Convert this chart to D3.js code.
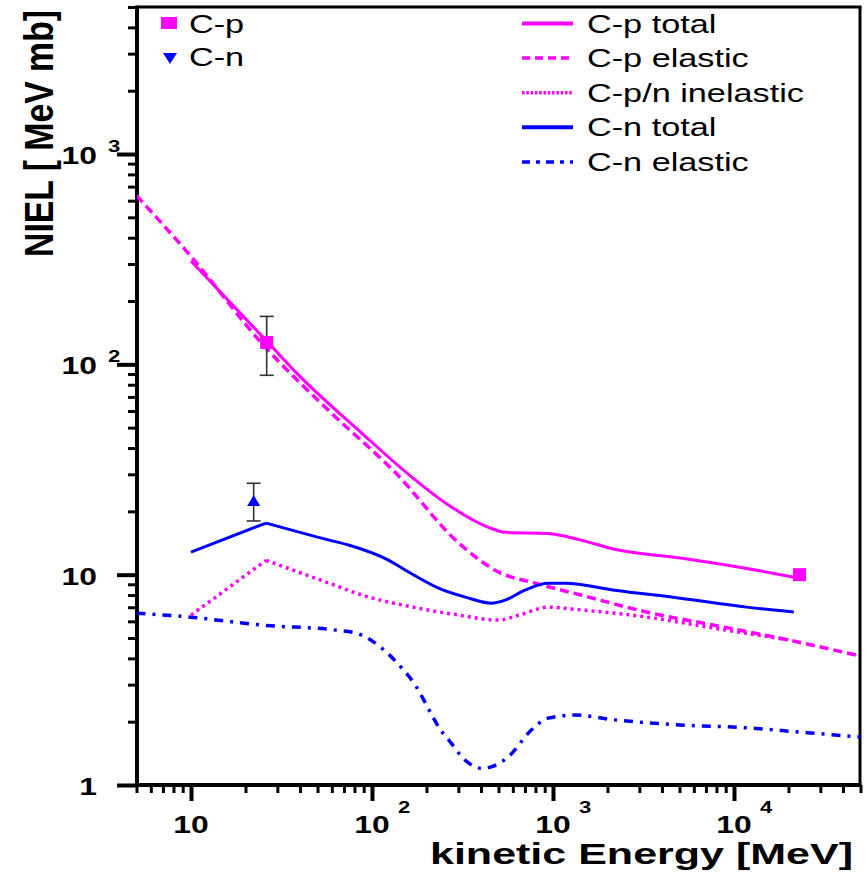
<!DOCTYPE html>
<html><head><meta charset="utf-8">
<script src="https://cdn.jsdelivr.net/npm/d3@7"></script>
<style>body{margin:0;background:#fff}text{font-family:"Liberation Sans",Arial,Helvetica,sans-serif;fill:#000}</style>
</head><body>
<svg id="c" width="867" height="876"></svg>
<script>
// ---------------- data ----------------
const cpTotalE   = [10, 26, 38, 88, 166, 255, 440, 545, 940, 1427, 2190, 5050, 11780, 21400];
const cpTotalV   = [310, 130, 91.6, 47, 29.1, 21.9, 16.8, 15.9, 15.7, 14.6, 13.2, 12.0, 10.7, 9.73];

const cpElasticE = [5, 10, 25, 58, 135, 300, 500, 800, 1427, 3327, 7760, 17900, 50000];
const cpElasticV = [635, 326, 124, 60, 30.5, 14.2, 10.3, 9.1, 8.0, 6.63, 5.75, 4.99, 4.1];

const inelE      = [10, 26, 58, 88, 170, 300, 499, 657, 940, 1427, 3327, 7760, 20300];
const inelV      = [6.42, 11.7, 9.11, 8.0, 7.0, 6.43, 6.08, 6.45, 7.0, 6.8, 6.28, 5.57, 4.89];

const cnTotalE   = [10, 26, 58, 75, 124, 160, 233, 328, 456, 545, 700, 940, 1164, 2190, 5050, 11780, 21400];
const cnTotalV   = [12.8, 17.6, 14.6, 13.8, 11.7, 10.27, 8.63, 7.82, 7.32, 7.57, 8.44, 9.11, 9.11, 8.44, 7.73, 7.01, 6.64];

const cnElasticE = [5, 10, 25, 63, 82, 114, 146, 175, 195, 214, 240, 265, 328, 402, 456, 566, 757, 940, 1321, 2190, 5050, 11780, 22200, 50000];
const cnElasticV = [6.56, 6.28, 5.75, 5.45, 5.27, 4.45, 3.6, 2.95, 2.5, 2.15, 1.82, 1.64, 1.31, 1.20, 1.22, 1.36, 1.82, 2.08, 2.15, 2.04, 1.93, 1.87, 1.79, 1.69];

// measured points
const cpPointE  = [26.2, 23000];
const cpPointV  = [127, 10];
const cpPointLo = [88.7, null];
const cpPointHi = [169, null];
const cnPointE  = [22.2];
const cnPointV  = [22.4];
const cnPointLo = [18.0];
const cnPointHi = [27.2];

// axis ticks
const xMajor = [10, 100, 1000, 10000];
const xMajorBase = ["10", "10", "10", "10"];
const xMajorExp  = ["", "2", "3", "4"];
const yMajor = [1, 10, 100, 1000];
const yMajorBase = ["1", "10", "10", "10"];
const yMajorExp  = ["", "", "2", "3"];

const legendLineLabels = ["C-p total", "C-p elastic", "C-p/n inelastic", "C-n total", "C-n elastic"];
const legendMarkLabels = ["C-p", "C-n"];

// ---------------- layout ----------------
const svg = d3.select("#c");
const L = 137, R = 860, T = 7, B = 785;
const x = d3.scaleLog().domain([5, 50000]).range([136.5, 860.5]);
const y = d3.scaleLog().domain([1, 5000]).range([785, 7]);
const MAG = "#ff00ff", BLU = "#0000ff";

svg.append("defs").append("clipPath").attr("id", "clip")
  .append("rect").attr("x", L).attr("y", T).attr("width", R - L).attr("height", B - T);

// minor ticks
function minors(lo, hi) {
  const out = [];
  for (let d = 1; d <= 100000; d *= 10)
    for (let k = 2; k <= 9; k++) { const v = k * d; if (v >= lo && v <= hi) out.push(v); }
  return out;
}
const xMinor = minors(5, 50000);
const yMinor = minors(1, 5000);

const gx = svg.append("g").attr("transform", `translate(0,${B})`);
gx.call(d3.axisBottom(x).tickValues(xMinor).tickSize(8).tickFormat(""));
gx.call(g => g.selectAll(".tick line").attr("stroke-width", 3));
const gx2 = svg.append("g").attr("transform", `translate(0,${B})`);
gx2.call(d3.axisBottom(x).tickValues(xMajor).tickSize(16).tickFormat(""));
gx2.call(g => g.selectAll(".tick line").attr("stroke-width", 4));
svg.selectAll(".domain").remove();

const gy = svg.append("g").attr("transform", `translate(${L},0)`);
gy.call(d3.axisLeft(y).tickValues(yMinor).tickSize(9).tickFormat(""));
gy.call(g => g.selectAll(".tick line").attr("stroke-width", 3));
const gy2 = svg.append("g").attr("transform", `translate(${L},0)`);
gy2.call(d3.axisLeft(y).tickValues(yMajor).tickSize(20).tickFormat(""));
gy2.call(g => g.selectAll(".tick line").attr("stroke-width", 4));
svg.selectAll(".domain").remove();

// frame
svg.append("line").attr("x1", L).attr("x2", L).attr("y1", T - 1.5).attr("y2", B + 2).attr("stroke", "#000").attr("stroke-width", 4);
svg.append("line").attr("x1", L - 2).attr("x2", R + 1.5).attr("y1", B).attr("y2", B).attr("stroke", "#000").attr("stroke-width", 4);
svg.append("line").attr("x1", L).attr("x2", R + 1.5).attr("y1", T).attr("y2", T).attr("stroke", "#000").attr("stroke-width", 3);
svg.append("line").attr("x1", R).attr("x2", R).attr("y1", T).attr("y2", B).attr("stroke", "#000").attr("stroke-width", 3);

// tick labels
const SX = 1.3;
xMajor.forEach((v, i) => {
  const g = svg.append("g").attr("transform", `translate(${x(v)},833) scale(${SX},1)`);
  g.append("text").attr("text-anchor", "middle").attr("font-weight", "bold").attr("font-size", 24.5).text(xMajorBase[i]);
  if (xMajorExp[i]) {
    svg.append("g").attr("transform", `translate(${x(v) + 26},813) scale(${SX},1)`)
      .append("text").attr("font-weight", "bold").attr("font-size", 17).text(xMajorExp[i]);
  }
});
yMajor.forEach((v, i) => {
  const g = svg.append("g").attr("transform", `translate(97,${y(v) + 10}) scale(${SX},1)`);
  g.append("text").attr("text-anchor", "end").attr("font-weight", "bold").attr("font-size", 24.5).text(yMajorBase[i]);
  if (yMajorExp[i]) {
    svg.append("g").attr("transform", `translate(108,${y(v) - 2}) scale(${SX},1)`)
      .append("text").attr("font-weight", "bold").attr("font-size", 17).text(yMajorExp[i]);
  }
});

// axis titles
svg.append("text").attr("x", 430).attr("y", 864).attr("font-weight", "bold").attr("font-size", 30)
  .attr("textLength", 423).attr("lengthAdjust", "spacingAndGlyphs").text("kinetic Energy [MeV]");
svg.append("g").attr("transform", "translate(53,133.5) scale(1.25,1) rotate(-90)")
  .append("text").attr("x", -123.5).attr("y", 0).attr("font-weight", "bold").attr("font-size", 33)
  .attr("textLength", 247).attr("lengthAdjust", "spacingAndGlyphs").text("NIEL [ MeV mb]");

// curves
const plot = svg.append("g").attr("clip-path", "url(#clip)");
const zip = (E, V) => E.map((e, i) => [e, V[i]]);
const lineMono = d3.line().x(d => x(d[0])).y(d => y(d[1])).curve(d3.curveMonotoneX);
const lineLin = d3.line().x(d => x(d[0])).y(d => y(d[1]));

const styles = {
  cpTotal:   { stroke: MAG, w: 3, dash: null },
  cpElastic: { stroke: MAG, w: 3.5, dash: "9,5" },
  inel:      { stroke: MAG, w: 3.5, dash: "3,4" },
  cnTotal:   { stroke: BLU, w: 3, dash: null },
  cnElastic: { stroke: BLU, w: 3.5, dash: "9,7,3,7" }
};
function draw(d, st, gen) {
  plot.append("path").attr("d", gen(d)).attr("fill", "none").attr("stroke", st.stroke)
    .attr("stroke-width", st.w).attr("stroke-dasharray", st.dash).attr("stroke-linejoin", "round");
}
draw(zip(cpElasticE, cpElasticV), styles.cpElastic, lineMono);
draw(zip(cnElasticE, cnElasticV), styles.cnElastic, lineMono);
const inel = zip(inelE, inelV);
draw(inel.slice(0, 2), styles.inel, lineLin);
draw(inel.slice(1), styles.inel, lineMono);
const cnT = zip(cnTotalE, cnTotalV);
draw(cnT.slice(0, 2), styles.cnTotal, lineLin);
draw(cnT.slice(1), styles.cnTotal, lineMono);
draw(zip(cpTotalE, cpTotalV), styles.cpTotal, lineMono);

// measured points with error bars
function errBar(e, lo, hi) {
  if (lo == null) return;
  const cx = x(e);
  const g = svg.append("g").attr("stroke", "#333").attr("stroke-width", 1.6);
  g.append("line").attr("x1", cx).attr("x2", cx).attr("y1", y(hi)).attr("y2", y(lo));
  g.append("line").attr("x1", cx - 7).attr("x2", cx + 7).attr("y1", y(hi)).attr("y2", y(hi));
  g.append("line").attr("x1", cx - 7).attr("x2", cx + 7).attr("y1", y(lo)).attr("y2", y(lo));
}
cpPointE.forEach((e, i) => {
  errBar(e, cpPointLo[i], cpPointHi[i]);
  svg.append("rect").attr("x", x(e) - 6.5).attr("y", y(cpPointV[i]) - 6.5).attr("width", 13).attr("height", 13).attr("fill", MAG);
});
cnPointE.forEach((e, i) => {
  errBar(e, cnPointLo[i], cnPointHi[i]);
  const cx = x(e), cy = y(cnPointV[i]);
  svg.append("path").attr("d", `M${cx - 6.5},${cy + 5} L${cx + 6.5},${cy + 5} L${cx},${cy - 6} Z`).attr("fill", BLU);
});

// legend (markers)
const LS = 1.37;
svg.append("rect").attr("x", 161).attr("y", 17).attr("width", 16).attr("height", 12).attr("fill", MAG);
svg.append("path").attr("d", "M163,53 L177,53 L170,64 Z").attr("fill", BLU);
[33, 66].forEach((by, i) => {
  svg.append("g").attr("transform", `translate(189,${by}) scale(${LS},1)`)
    .append("text").attr("font-size", 25).text(legendMarkLabels[i]);
});

// legend (lines)
const legStyles = [
  { stroke: MAG, w: 4, dash: null },
  { stroke: MAG, w: 3.5, dash: "8,5" },
  { stroke: MAG, w: 3.5, dash: "2.5,1.8" },
  { stroke: BLU, w: 4, dash: null },
  { stroke: BLU, w: 3.5, dash: "8,6,4,6" }
];
legendLineLabels.forEach((lab, i) => {
  const cy = 23.5 + i * 34.6;
  const s = legStyles[i];
  svg.append("line").attr("x1", 522).attr("x2", 573).attr("y1", cy).attr("y2", cy)
    .attr("stroke", s.stroke).attr("stroke-width", s.w).attr("stroke-dasharray", s.dash);
  svg.append("g").attr("transform", `translate(587,${cy + 9}) scale(${LS},1)`)
    .append("text").attr("font-size", 25).text(lab);
});
</script>
</body></html>
